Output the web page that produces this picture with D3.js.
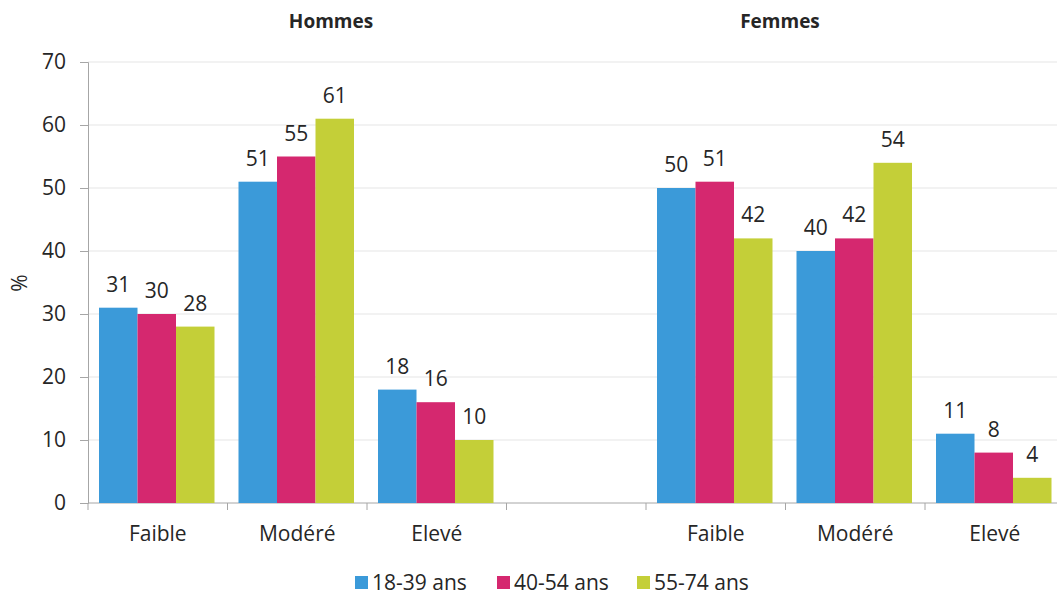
<!DOCTYPE html>
<html>
<head>
<meta charset="utf-8">
<script src="https://cdn.jsdelivr.net/npm/d3@7"></script>
<style>
  body { margin: 0; background: #fff; }
  text { font-family: "Open Sans", Lato, sans-serif; fill: #262626; }
</style>
</head>
<body>
<svg class="svg"></svg>
<script>
let slots = ["H-Faible", "H-Modéré", "H-Elevé", "gap", "F-Faible", "F-Modéré", "F-Elevé"]
let slotLabels = ["Faible", "Modéré", "Elevé", "", "Faible", "Modéré", "Elevé"]
let series = ["18-39 ans", "40-54 ans", "55-74 ans"]
let colors = ["#3b9ad9", "#d5286f", "#c4cf38"]
// values by series, one per slot (null for the gap)
let v1839 = [31, 51, 18, null, 50, 40, 11]
let v4054 = [30, 55, 16, null, 51, 42, 8]
let v5574 = [28, 61, 10, null, 42, 54, 4]
let yTicks = [0, 10, 20, 30, 40, 50, 60, 70]

let values = [v1839, v4054, v5574]
let fs = "21px"

let svg = d3.select(".svg").attr("width", 1057).attr("height", 599)

let x = d3.scaleBand().domain(slots).range([88, 1064.5]).paddingInner(0).paddingOuter(0)
let inner = d3.scaleBand().domain(series).range([11, x.bandwidth() - 13]).padding(0)
let y = d3.scaleLinear().domain([0, 70]).range([503, 62])

// gridlines
svg.append("g")
  .selectAll("line")
  .data(yTicks.slice(1))
  .enter()
  .append("line")
  .attr("x1", 88).attr("x2", 1057)
  .attr("y1", d => y(d)).attr("y2", d => y(d))
  .attr("stroke", "#e6e6e6").attr("stroke-width", 1.2)

// y axis
let yAxis = d3.axisLeft(y).tickValues(yTicks).tickSize(8).tickPadding(14)
let yg = svg.append("g").attr("transform", "translate(88,0)").call(yAxis)
yg.select(".domain").attr("stroke", "#a6a6a6")
yg.selectAll(".tick line").attr("stroke", "#a6a6a6")
yg.selectAll(".tick text").style("font-size", fs).style("font-family", "'Open Sans', sans-serif").attr("fill", "#262626")

// x axis
let xg = svg.append("g").attr("transform", "translate(0,503)")
xg.append("line").attr("x1", 88).attr("x2", 1057).attr("y1", 0).attr("y2", 0).attr("stroke", "#a6a6a6")
xg.selectAll(".xt")
  .data(slots)
  .enter()
  .append("line")
  .attr("x1", d => x(d)).attr("x2", d => x(d))
  .attr("y1", 0).attr("y2", 7)
  .attr("stroke", "#a6a6a6")
xg.selectAll("text")
  .data(slots)
  .enter()
  .append("text")
  .attr("x", d => x(d) + x.bandwidth() / 2)
  .attr("y", 38)
  .attr("text-anchor", "middle")
  .style("font-size", fs)
  .text((d, i) => slotLabels[i])

// bars
series.forEach((s, si) => {
  let g = svg.append("g")
  let data = slots.map((c, ci) => ({ c: c, v: values[si][ci] })).filter(d => d.v !== null)
  g.selectAll("rect")
    .data(data)
    .enter()
    .append("rect")
    .attr("x", d => x(d.c) + inner(s))
    .attr("width", inner.bandwidth())
    .attr("y", d => y(d.v))
    .attr("height", d => y(0) - y(d.v))
    .attr("fill", colors[si])
  g.selectAll("text")
    .data(data)
    .enter()
    .append("text")
    .attr("x", d => x(d.c) + inner(s) + inner.bandwidth() / 2)
    .attr("y", d => y(d.v) - 16)
    .attr("text-anchor", "middle")
    .style("font-size", fs)
    .text(d => d.v)
})

// titles
svg.append("text").attr("x", 331).attr("y", 28).attr("text-anchor", "middle")
  .style("font-size", "19px").style("font-weight", "bold").text("Hommes")
svg.append("text").attr("x", 780).attr("y", 28).attr("text-anchor", "middle")
  .style("font-size", "19px").style("font-weight", "bold").text("Femmes")

// y label
svg.append("text").attr("transform", "translate(27,283) rotate(-90)")
  .attr("text-anchor", "middle").style("font-size", fs).text("%")

// legend
let legendX = [355, 497, 637]
let legend = svg.append("g")
series.forEach((s, i) => {
  legend.append("rect").attr("x", legendX[i]).attr("y", 576).attr("width", 13).attr("height", 13).attr("fill", colors[i])
  legend.append("text").attr("x", legendX[i] + 17).attr("y", 590).style("font-size", fs).text(s)
})
</script>
</body>
</html>
